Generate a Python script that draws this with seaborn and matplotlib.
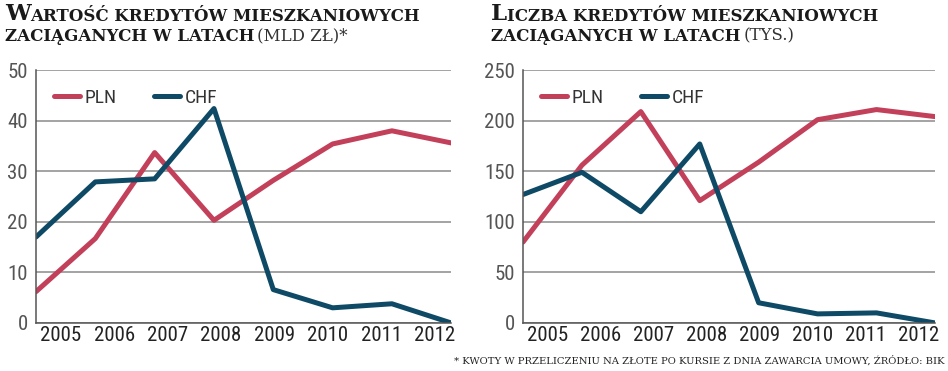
import matplotlib
matplotlib.use("Agg")
import matplotlib.pyplot as plt
from matplotlib import font_manager
import pandas as pd
import seaborn as sns
import numpy as np

years = ["2005", "2006", "2007", "2008", "2009", "2010", "2011", "2012"]

# wartosc kredytow (mld zl)
value_pln = [6.2, 16.7, 33.7, 20.3, 28.2, 35.4, 38.0, 35.6]
value_chf = [17.0, 27.9, 28.5, 42.4, 6.6, 3.0, 3.8, 0.0]

# liczba kredytow (tys.)
count_pln = [80, 156, 209, 121, 159, 201, 211, 204]
count_chf = [127, 149, 110, 177, 20, 9, 10, 0]

series_names = ["PLN", "CHF"]
colors = {"PLN": "#c2405a", "CHF": "#0e4a66"}

sns.set_style("white")

installed = {f.name for f in font_manager.fontManager.ttflist}
narrow = [n for n in ["Liberation Sans Narrow", "DejaVu Sans Condensed", "Roboto Condensed"] if n in installed]
TICK_FONT = narrow[:1] + ["DejaVu Sans"]
SERIF = ["DejaVu Serif"]


def to_long(pln, chf):
    df = pd.DataFrame({"x": list(range(len(years))) * 2,
                       "val": pln + chf,
                       "waluta": ["PLN"] * len(pln) + ["CHF"] * len(chf)})
    return df


def draw(ax, pln, chf, ymax, step):
    df = to_long(pln, chf)
    sns.lineplot(data=df, x="x", y="val", hue="waluta", hue_order=series_names,
                 palette=colors, linewidth=3.6, ax=ax, legend=True)
    ax.set_xlim(0, len(years) - 1)
    ax.set_ylim(0, ymax)
    ax.set_yticks(np.arange(0, ymax + 1, step))
    ax.set_xticks(0.42 + 0.9 * np.arange(len(years)))
    ax.set_xticklabels(years)
    ax.set_xlabel("")
    ax.set_ylabel("")
    ax.grid(axis="y", color="#8a8a8a", linewidth=1.1)
    ax.set_axisbelow(True)
    for s in ["top", "right"]:
        ax.spines[s].set_visible(False)
    for s in ["left", "bottom"]:
        ax.spines[s].set_color("#555555")
        ax.spines[s].set_linewidth(1.1)
    ax.tick_params(axis="both", length=0, labelsize=15)
    ax.tick_params(axis="x", pad=2, labelcolor="#222222")
    ax.tick_params(axis="y", pad=6, labelcolor="#555555")
    for lab in ax.get_xticklabels() + ax.get_yticklabels():
        lab.set_family(TICK_FONT)
    leg = ax.legend(loc="upper left", bbox_to_anchor=(0.0, 0.995), ncol=2,
                    frameon=False, handlelength=1.35, columnspacing=1.9,
                    handletextpad=0.25,
                    prop={"family": TICK_FONT, "size": 14})
    for t in leg.get_texts():
        t.set_color("#333333")


def title(fig, x, first, rest1, line2, light):
    t1 = fig.text(x, 0.945, first, fontsize=16.5, fontweight="bold",
                  family=SERIF, color="#1a1a1a", va="baseline")
    fig.canvas.draw()
    plt.annotate(rest1, xy=(1, 0), xycoords=t1, xytext=(0, 0),
                 textcoords="offset points", fontsize=12, fontweight="bold",
                 family=SERIF, color="#1a1a1a", va="bottom", ha="left",
                 annotation_clip=False)
    t2 = fig.text(x, 0.89, line2, fontsize=12, fontweight="bold",
                  family=SERIF, color="#1a1a1a", va="baseline")
    plt.annotate(light, xy=(1, 0), xycoords=t2, xytext=(2, 0),
                 textcoords="offset points", fontsize=12,
                 family=SERIF, color="#333333", va="bottom", ha="left",
                 annotation_clip=False)


fig = plt.figure(figsize=(9.48, 3.71), dpi=100)
ax1 = fig.add_axes([0.038, 0.1294, 0.438, 0.6816])
ax2 = fig.add_axes([0.5517, 0.1294, 0.435, 0.6816])

draw(ax1, value_pln, value_chf, 50, 10)
draw(ax2, count_pln, count_chf, 250, 50)

plt.sca(ax1)
title(fig, 0.005, "W", "ARTOŚĆ KREDYTÓW MIESZKANIOWYCH",
      "ZACIĄGANYCH W LATACH", "(MLD ZŁ)*")
plt.sca(ax2)
title(fig, 0.518, "L", "ICZBA KREDYTÓW MIESZKANIOWYCH",
      "ZACIĄGANYCH W LATACH", "(TYS.)")

fig.text(0.996, 0.02, "* KWOTY W PRZELICZENIU NA ZŁOTE PO KURSIE Z DNIA ZAWARCIA UMOWY, ŹRÓDŁO: BIK",
         ha="right", va="baseline", fontsize=7.2, family=SERIF, color="#222222")

fig.savefig("out.png", dpi=100, facecolor="white")
